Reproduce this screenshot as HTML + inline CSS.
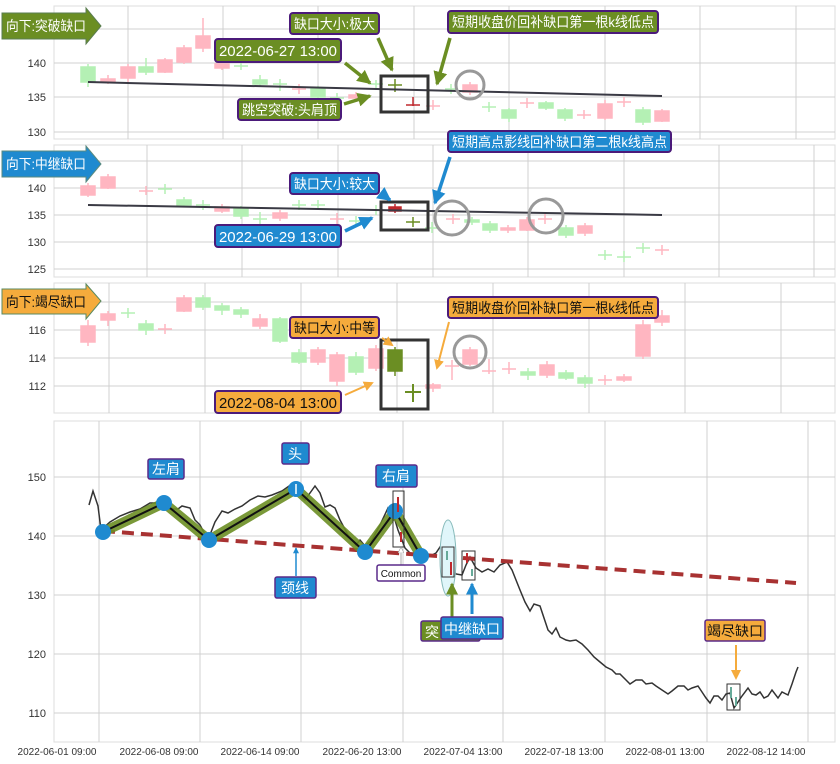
<!DOCTYPE html>
<html><head><meta charset="utf-8"><style>
body{margin:0;background:#fff;}
svg{display:block;font-family:"Liberation Sans","Noto Sans CJK SC",sans-serif;}
.g line{stroke:#d0d0d0;stroke-width:1}
.t{font-size:11px;fill:#333}
.p{fill:#ffb6c1;stroke:#ffb6c1}
.q{fill:#b4f0b4;stroke:#b4f0b4}
.lb{font-size:14px;fill:#fff}
</style></head><body>
<svg width="840" height="764" viewBox="0 0 840 764" xmlns="http://www.w3.org/2000/svg">
<defs>
<marker id="ao" markerWidth="4" markerHeight="4" refX="3.5" refY="2" orient="auto"><path d="M0,0L4,2L0,4z" fill="#6b8e23"/></marker>
<marker id="ab" markerWidth="4" markerHeight="4" refX="3.5" refY="2" orient="auto"><path d="M0,0L4,2L0,4z" fill="#1f8ad0"/></marker>
<marker id="ay" markerWidth="5" markerHeight="5" refX="4" refY="2.5" orient="auto"><path d="M0,0L5,2.5L0,5z" fill="#f5ab3c"/></marker>
<marker id="aw" markerWidth="6" markerHeight="6" refX="5" refY="3" orient="auto"><path d="M0,0L6,3L0,6z" fill="#fff" stroke="#999" stroke-width=".6"/></marker>
</defs>
<rect x="54" y="6" width="781" height="133" fill="none" stroke="#ddd"/>
<rect x="54" y="145" width="781" height="132" fill="none" stroke="#ddd"/>
<rect x="54" y="283" width="781" height="130" fill="none" stroke="#ddd"/>
<rect x="54" y="421" width="781" height="321" fill="none" stroke="#ddd"/>
<g class="g">
<line x1="54" y1="29" x2="835" y2="29"/><line x1="54" y1="63" x2="835" y2="63"/><line x1="54" y1="97" x2="835" y2="97"/><line x1="54" y1="132" x2="835" y2="132"/>
<line x1="128" y1="6" x2="128" y2="139"/><line x1="223" y1="6" x2="223" y2="139"/><line x1="318" y1="6" x2="318" y2="139"/><line x1="414" y1="6" x2="414" y2="139"/><line x1="509" y1="6" x2="509" y2="139"/><line x1="605" y1="6" x2="605" y2="139"/><line x1="700" y1="6" x2="700" y2="139"/><line x1="796" y1="6" x2="796" y2="139"/>
<line x1="54" y1="161" x2="835" y2="161"/><line x1="54" y1="188" x2="835" y2="188"/><line x1="54" y1="215" x2="835" y2="215"/><line x1="54" y1="242" x2="835" y2="242"/><line x1="54" y1="269" x2="835" y2="269"/>
<line x1="147" y1="145" x2="147" y2="277"/><line x1="242" y1="145" x2="242" y2="277"/><line x1="338" y1="145" x2="338" y2="277"/><line x1="433" y1="145" x2="433" y2="277"/><line x1="528" y1="145" x2="528" y2="277"/><line x1="624" y1="145" x2="624" y2="277"/><line x1="719" y1="145" x2="719" y2="277"/><line x1="814" y1="145" x2="814" y2="277"/>
<line x1="54" y1="302" x2="835" y2="302"/><line x1="54" y1="330" x2="835" y2="330"/><line x1="54" y1="358" x2="835" y2="358"/><line x1="54" y1="386" x2="835" y2="386"/>
<line x1="109" y1="283" x2="109" y2="413"/><line x1="205" y1="283" x2="205" y2="413"/><line x1="301" y1="283" x2="301" y2="413"/><line x1="397" y1="283" x2="397" y2="413"/><line x1="493" y1="283" x2="493" y2="413"/><line x1="589" y1="283" x2="589" y2="413"/><line x1="685" y1="283" x2="685" y2="413"/><line x1="781" y1="283" x2="781" y2="413"/>
<line x1="54" y1="477" x2="835" y2="477"/><line x1="54" y1="536" x2="835" y2="536"/><line x1="54" y1="595" x2="835" y2="595"/><line x1="54" y1="654" x2="835" y2="654"/><line x1="54" y1="713" x2="835" y2="713"/>
<line x1="99" y1="421" x2="99" y2="742"/><line x1="200" y1="421" x2="200" y2="742"/><line x1="301" y1="421" x2="301" y2="742"/><line x1="403" y1="421" x2="403" y2="742"/><line x1="503" y1="421" x2="503" y2="742"/><line x1="605" y1="421" x2="605" y2="742"/><line x1="707" y1="421" x2="707" y2="742"/><line x1="808" y1="421" x2="808" y2="742"/>
</g>
<g class="t" text-anchor="end">
<text x="46" y="67">140</text><text x="46" y="101">135</text><text x="46" y="136">130</text>
<text x="46" y="192">140</text><text x="46" y="219">135</text><text x="46" y="246">130</text><text x="46" y="273">125</text>
<text x="46" y="334">116</text><text x="46" y="362">114</text><text x="46" y="390">112</text>
<text x="46" y="481">150</text><text x="46" y="540">140</text><text x="46" y="599">130</text><text x="46" y="658">120</text><text x="46" y="717">110</text>
</g>
<g font-size="10" fill="#333" text-anchor="middle">
<text x="57" y="755">2022-06-01 09:00</text><text x="159" y="755">2022-06-08 09:00</text><text x="260" y="755">2022-06-14 09:00</text><text x="362" y="755">2022-06-20 13:00</text><text x="463" y="755">2022-07-04 13:00</text><text x="564" y="755">2022-07-18 13:00</text><text x="665" y="755">2022-08-01 13:00</text><text x="766" y="755">2022-08-12 14:00</text>
</g>

<g stroke-width="1.5">
<line class="q" x1="88" y1="64" x2="88" y2="87"/><rect class="q" x="81" y="67" width="14" height="15"/>
<line class="p" x1="108" y1="75" x2="108" y2="84"/><rect class="p" x="101" y="79" width="14" height="3"/>
<line class="p" x1="128" y1="64" x2="128" y2="82"/><rect class="p" x="121" y="67" width="14" height="11"/>
<line class="q" x1="146" y1="58" x2="146" y2="75"/><rect class="q" x="139" y="67" width="14" height="5"/>
<line class="p" x1="165" y1="58" x2="165" y2="73"/><rect class="p" x="158" y="60" width="14" height="12"/>
<line class="p" x1="184" y1="45" x2="184" y2="64"/><rect class="p" x="177" y="48" width="14" height="14"/>
<line class="p" x1="203" y1="18" x2="203" y2="52"/><rect class="p" x="196" y="36" width="14" height="12"/>
<line class="p" x1="222" y1="61" x2="222" y2="70"/><rect class="p" x="215" y="64" width="14" height="4"/>
<line class="q" x1="241" y1="61" x2="241" y2="70"/><line class="q" x1="234" y1="66" x2="248" y2="66"/>
<line class="q" x1="260" y1="75" x2="260" y2="86"/><rect class="q" x="253" y="80" width="14" height="4"/>
<line class="q" x1="280" y1="79" x2="280" y2="91"/><line class="q" x1="273" y1="84" x2="287" y2="84"/>
<line class="p" x1="299" y1="84" x2="299" y2="94"/><line class="p" x1="292" y1="89" x2="306" y2="89"/>
<line class="q" x1="318" y1="86" x2="318" y2="99"/><rect class="q" x="311" y="89" width="14" height="8"/>
<line class="q" x1="337" y1="93" x2="337" y2="102"/><line class="q" x1="330" y1="98" x2="344" y2="98"/>
<line class="p" x1="356" y1="92" x2="356" y2="102"/><rect class="p" x="349" y="95" width="14" height="3"/>
<line class="q" x1="376" y1="80" x2="376" y2="90"/><line class="q" x1="369" y1="84" x2="383" y2="84"/>
<line stroke="#6b8e23" x1="395" y1="79" x2="395" y2="92"/><line stroke="#6b8e23" x1="388" y1="85" x2="402" y2="85"/>
<line stroke="#c0282d" x1="413" y1="97" x2="413" y2="106"/><line stroke="#c0282d" x1="406" y1="105" x2="420" y2="105"/>
<line class="p" x1="433" y1="100" x2="433" y2="110"/><line class="p" x1="426" y1="106" x2="440" y2="106"/>
<line class="q" x1="451" y1="84" x2="451" y2="94"/><line class="q" x1="445" y1="89" x2="457" y2="89"/>
<line class="p" x1="470" y1="82" x2="470" y2="95"/><rect class="p" x="463" y="85" width="14" height="7"/>
<line class="q" x1="489" y1="102" x2="489" y2="112"/><line class="q" x1="482" y1="107" x2="496" y2="107"/>
<line class="q" x1="509" y1="108" x2="509" y2="122"/><rect class="q" x="502" y="110" width="14" height="8"/>
<line class="p" x1="527" y1="98" x2="527" y2="108"/><line class="p" x1="520" y1="103" x2="534" y2="103"/>
<line class="q" x1="546" y1="101" x2="546" y2="110"/><rect class="q" x="539" y="103" width="14" height="5"/>
<line class="q" x1="565" y1="108" x2="565" y2="121"/><rect class="q" x="558" y="110" width="14" height="8"/>
<line class="p" x1="584" y1="110" x2="584" y2="119"/><line class="p" x1="577" y1="115" x2="591" y2="115"/>
<line class="p" x1="605" y1="100" x2="605" y2="120"/><rect class="p" x="598" y="104" width="14" height="14"/>
<line class="p" x1="624" y1="97" x2="624" y2="107"/><line class="p" x1="617" y1="102" x2="631" y2="102"/>
<line class="q" x1="643" y1="107" x2="643" y2="125"/><rect class="q" x="636" y="110" width="14" height="12"/>
<line class="p" x1="662" y1="109" x2="662" y2="122"/><rect class="p" x="655" y="111" width="14" height="10"/>
</g>
<line x1="88" y1="82" x2="662" y2="96" stroke="#3a3a44" stroke-width="2"/>
<rect x="381" y="76" width="47" height="36" fill="none" stroke="#333" stroke-width="3"/>
<circle cx="470" cy="85" r="14" fill="none" stroke="#999" stroke-width="3"/>

<g stroke-width="1.5">
<line class="p" x1="88" y1="183" x2="88" y2="197"/><rect class="p" x="81" y="186" width="14" height="9"/>
<line class="p" x1="108" y1="174" x2="108" y2="189"/><rect class="p" x="101" y="177" width="14" height="11"/>
<line class="p" x1="146" y1="186" x2="146" y2="195"/><line class="p" x1="139" y1="191" x2="153" y2="191"/>
<line class="q" x1="165" y1="184" x2="165" y2="194"/><line class="q" x1="158" y1="189" x2="172" y2="189"/>
<line class="q" x1="184" y1="197" x2="184" y2="207"/><rect class="q" x="177" y="200" width="14" height="5"/>
<line class="q" x1="203" y1="200" x2="203" y2="210"/><line class="q" x1="196" y1="205" x2="210" y2="205"/>
<line class="p" x1="222" y1="204" x2="222" y2="213"/><rect class="p" x="215" y="207" width="14" height="4"/>
<line class="q" x1="241" y1="206" x2="241" y2="219"/><rect class="q" x="234" y="209" width="14" height="7"/>
<line class="q" x1="260" y1="212" x2="260" y2="225"/><line class="q" x1="253" y1="219" x2="267" y2="219"/>
<line class="p" x1="280" y1="210" x2="280" y2="221"/><rect class="p" x="273" y="213" width="14" height="5"/>
<line class="q" x1="299" y1="200" x2="299" y2="210"/><line class="q" x1="292" y1="205" x2="306" y2="205"/>
<line class="q" x1="318" y1="200" x2="318" y2="210"/><line class="q" x1="311" y1="205" x2="325" y2="205"/>
<line class="p" x1="337" y1="213" x2="337" y2="224"/><line class="p" x1="330" y1="219" x2="344" y2="219"/>
<line class="q" x1="356" y1="216" x2="356" y2="225"/><line class="q" x1="349" y1="221" x2="363" y2="221"/>
<line class="q" x1="376" y1="205" x2="376" y2="215"/><line class="q" x1="369" y1="210" x2="383" y2="210"/>
<line stroke="#c0282d" x1="395" y1="204" x2="395" y2="213"/><rect fill="#c0282d" stroke="#c0282d" x="389" y="207" width="12" height="4"/>
<line stroke="#6b8e23" x1="413" y1="217" x2="413" y2="227"/><line stroke="#6b8e23" x1="406" y1="222" x2="420" y2="222"/>
<line class="q" x1="432" y1="222" x2="432" y2="233"/><line class="q" x1="425" y1="228" x2="439" y2="228"/>
<line class="p" x1="453" y1="214" x2="453" y2="224"/><line class="p" x1="446" y1="219" x2="460" y2="219"/>
<line class="q" x1="472" y1="217" x2="472" y2="225"/><rect class="q" x="465" y="220" width="14" height="2"/>
<line class="q" x1="490" y1="221" x2="490" y2="233"/><rect class="q" x="483" y="224" width="14" height="6"/>
<line class="p" x1="508" y1="225" x2="508" y2="233"/><rect class="p" x="501" y="228" width="14" height="2"/>
<line class="p" x1="527" y1="217" x2="527" y2="231"/><rect class="p" x="520" y="220" width="14" height="10"/>
<line class="p" x1="545" y1="214" x2="545" y2="224"/><line class="p" x1="538" y1="219" x2="552" y2="219"/>
<line class="q" x1="566" y1="225" x2="566" y2="238"/><rect class="q" x="559" y="228" width="14" height="7"/>
<line class="p" x1="585" y1="223" x2="585" y2="236"/><rect class="p" x="578" y="226" width="14" height="7"/>
<line class="q" x1="605" y1="250" x2="605" y2="260"/><line class="q" x1="598" y1="255" x2="612" y2="255"/>
<line class="q" x1="624" y1="251" x2="624" y2="262"/><line class="q" x1="617" y1="257" x2="631" y2="257"/>
<line class="q" x1="643" y1="243" x2="643" y2="253"/><line class="q" x1="636" y1="248" x2="650" y2="248"/>
<line class="p" x1="662" y1="245" x2="662" y2="255"/><line class="p" x1="655" y1="250" x2="669" y2="250"/>
</g>
<line x1="88" y1="205" x2="662" y2="215" stroke="#3a3a44" stroke-width="2"/>
<rect x="381" y="202" width="47" height="28" fill="none" stroke="#333" stroke-width="3"/>
<circle cx="452" cy="218" r="17" fill="none" stroke="#999" stroke-width="3"/>
<circle cx="546" cy="216" r="17" fill="none" stroke="#999" stroke-width="3"/>

<g stroke-width="1.5">
<line class="p" x1="88" y1="320" x2="88" y2="346"/><rect class="p" x="81" y="326" width="14" height="16"/>
<line class="p" x1="108" y1="311" x2="108" y2="326"/><rect class="p" x="101" y="314" width="14" height="6"/>
<line class="q" x1="128" y1="308" x2="128" y2="318"/><line class="q" x1="121" y1="313" x2="135" y2="313"/>
<line class="q" x1="146" y1="320" x2="146" y2="335"/><rect class="q" x="139" y="324" width="14" height="6"/>
<line class="p" x1="165" y1="324" x2="165" y2="334"/><line class="p" x1="158" y1="329" x2="172" y2="329"/>
<line class="p" x1="184" y1="295" x2="184" y2="312"/><rect class="p" x="177" y="298" width="14" height="13"/>
<line class="q" x1="203" y1="295" x2="203" y2="310"/><rect class="q" x="196" y="298" width="14" height="9"/>
<line class="q" x1="222" y1="303" x2="222" y2="315"/><rect class="q" x="215" y="306" width="14" height="4"/>
<line class="q" x1="241" y1="307" x2="241" y2="318"/><rect class="q" x="234" y="310" width="14" height="4"/>
<line class="p" x1="260" y1="314" x2="260" y2="329"/><rect class="p" x="253" y="319" width="14" height="7"/>
<line class="q" x1="280" y1="317" x2="280" y2="343"/><rect class="q" x="273" y="319" width="14" height="22"/>
<line class="q" x1="299" y1="349" x2="299" y2="364"/><rect class="q" x="292" y="353" width="14" height="9"/>
<line class="p" x1="318" y1="347" x2="318" y2="365"/><rect class="p" x="311" y="350" width="14" height="12"/>
<line class="p" x1="337" y1="352" x2="337" y2="386"/><rect class="p" x="330" y="355" width="14" height="26"/>
<line class="q" x1="356" y1="352" x2="356" y2="375"/><rect class="q" x="349" y="357" width="14" height="15"/>
<line class="p" x1="376" y1="345" x2="376" y2="371"/><rect class="p" x="369" y="349" width="14" height="19"/>
<line stroke="#6b8e23" x1="395" y1="347" x2="395" y2="376"/><rect fill="#6b8e23" stroke="#6b8e23" x="388" y="350" width="14" height="21"/>
<line stroke="#6b8e23" stroke-width="2" x1="413" y1="384" x2="413" y2="402"/><line stroke="#6b8e23" stroke-width="2" x1="405" y1="392" x2="421" y2="392"/>
<line class="p" x1="433" y1="383" x2="433" y2="392"/><rect class="p" x="426" y="385" width="14" height="3"/>
<line class="p" x1="452" y1="360" x2="452" y2="380"/><line class="p" x1="445" y1="366" x2="459" y2="366"/>
<line class="p" x1="470" y1="347" x2="470" y2="366"/><rect class="p" x="463" y="350" width="14" height="14"/>
<line class="p" x1="489" y1="359" x2="489" y2="374"/><line class="p" x1="482" y1="371" x2="496" y2="371"/>
<line class="p" x1="509" y1="362" x2="509" y2="374"/><line class="p" x1="502" y1="369" x2="516" y2="369"/>
<line class="q" x1="528" y1="368" x2="528" y2="380"/><rect class="q" x="521" y="372" width="14" height="3"/>
<line class="p" x1="547" y1="361" x2="547" y2="378"/><rect class="p" x="540" y="365" width="14" height="10"/>
<line class="q" x1="566" y1="370" x2="566" y2="380"/><rect class="q" x="559" y="373" width="14" height="5"/>
<line class="q" x1="585" y1="375" x2="585" y2="388"/><rect class="q" x="578" y="378" width="14" height="5"/>
<line class="p" x1="605" y1="375" x2="605" y2="385"/><line class="p" x1="598" y1="380" x2="612" y2="380"/>
<line class="p" x1="624" y1="374" x2="624" y2="382"/><rect class="p" x="617" y="377" width="14" height="3"/>
<line class="p" x1="643" y1="320" x2="643" y2="359"/><rect class="p" x="636" y="325" width="14" height="31"/>
<line class="p" x1="662" y1="310" x2="662" y2="326"/><rect class="p" x="655" y="316" width="14" height="6"/>
</g>
<rect x="381" y="340" width="47" height="69" fill="none" stroke="#333" stroke-width="3"/>
<circle cx="470" cy="352" r="16" fill="none" stroke="#999" stroke-width="3"/>

<polyline fill="none" stroke="#333" stroke-width="1.5" points="89,505 93,491 98,506 101,530 110,522 120,516 130,512 140,509 150,503 160,503 166,508 170,509 178,509 182,506 190,508 195,520 200,525 208,540 215,522 222,511 228,513 235,509 242,506 250,500 258,496 265,497 272,495 282,491 292,484 297,493 305,500 315,486 320,493 325,507 330,505 335,508 340,520 348,535 356,545 360,540 365,546 372,540 380,525 388,508 394,517 398,530 405,548 412,555 420,552 428,557 436,553 440,547 444,558 450,565 456,574 462,575 466,565 470,557 476,568 482,572 488,569 494,572 500,565 507,562 512,570 516,580 520,590 525,602 530,611 534,604 540,606 544,618 548,630 552,634 556,628 560,637 566,640 570,641 576,640 582,644 588,650 594,657 600,662 606,667 612,670 616,674 620,674 626,680 630,684 636,680 642,680 646,684 652,683 656,686 662,690 668,694 672,691 678,686 684,686 688,690 692,688 698,686 702,692 706,698 710,703 714,696 718,696 722,700 726,694 730,693 734,708 738,702 742,696 748,688 752,694 756,695 760,692 764,698 768,696 772,690 778,698 782,692 788,695 792,684 796,672 798,667"/>
<line x1="103" y1="531" x2="796" y2="583" stroke="#a83232" stroke-width="4" stroke-dasharray="12,7"/>
<polyline fill="none" stroke="#6b8e23" stroke-opacity="0.9" stroke-width="10" stroke-linejoin="round" points="103,532 164,503 209,540 296,489 365,552 395,511 421,556"/>
<polyline fill="none" stroke="#111" stroke-width="2" points="103,532 164,503 209,540 296,489 365,552 395,511 421,556"/>
<g fill="#1f8ad0"><circle cx="103" cy="532" r="8"/><circle cx="164" cy="503" r="8"/><circle cx="209" cy="540" r="8"/><circle cx="296" cy="489" r="8"/><circle cx="365" cy="552" r="8"/><circle cx="395" cy="511" r="8"/><circle cx="421" cy="556" r="8"/></g>
<line x1="296" y1="484" x2="296" y2="494" stroke="#fff" stroke-width="1.5"/>
<ellipse cx="448" cy="558" rx="8" ry="38" fill="#e0f6fa" stroke="#8bb" stroke-width="1"/>
<g fill="none" stroke="#333" stroke-width="1">
<rect x="393" y="491" width="11" height="56"/><rect x="442" y="547" width="12" height="30"/><rect x="462" y="551" width="13" height="29"/><rect x="727" y="684" width="13" height="26"/>
</g>
<g stroke-width="2">
<line x1="398" y1="497" x2="398" y2="512" stroke="#c0282d"/><line x1="401" y1="532" x2="401" y2="542" stroke="#c0282d"/>
<line x1="447" y1="551" x2="447" y2="560" stroke="#6a9"/><line x1="451" y1="562" x2="451" y2="575" stroke="#c0282d"/>
<line x1="467" y1="553" x2="467" y2="563" stroke="#c0282d"/><line x1="472" y1="569" x2="472" y2="576" stroke="#6a9"/>
<line x1="731" y1="687" x2="731" y2="698" stroke="#6a9"/><line x1="736" y1="697" x2="736" y2="706" stroke="#6a9"/>
</g>
<line x1="401" y1="566" x2="401" y2="548" stroke="#aaa" stroke-width="1" marker-end="url(#aw)"/>
<line x1="296" y1="576" x2="296" y2="548" stroke="#1f8ad0" stroke-width="1.5" marker-end="url(#ab)"/>
<line x1="452" y1="630" x2="452" y2="584" stroke="#6b8e23" stroke-width="3" marker-end="url(#ao)"/>
<line x1="472" y1="614" x2="472" y2="584" stroke="#1f8ad0" stroke-width="3" marker-end="url(#ab)"/>
<line x1="736" y1="645" x2="736" y2="678" stroke="#f5ab3c" stroke-width="2" marker-end="url(#ay)"/>
<g stroke="#5a2a8a" stroke-width="1.5">
<rect x="148" y="459" width="36" height="20" rx="2" fill="#1f8ad0"/>
<rect x="282" y="443" width="27" height="21" rx="2" fill="#1f8ad0"/>
<rect x="376" y="465" width="41" height="22" rx="2" fill="#1f8ad0"/>
<rect x="275" y="577" width="41" height="21" rx="2" fill="#1f8ad0"/>
<rect x="377" y="565" width="48" height="16" rx="2" fill="#fff"/>
<rect x="421" y="621" width="59" height="20" rx="2" fill="#6b8e23"/>
<rect x="441" y="617" width="62" height="22" rx="2" fill="#1f8ad0"/>
<rect x="705" y="620" width="60" height="21" rx="2" fill="#f5ab3c"/>
</g>
<g class="lb" font-size="13" text-anchor="middle">
<text x="166" y="474">左肩</text><text x="295" y="459">头</text><text x="396" y="481">右肩</text><text x="295" y="593">颈线</text>
<text x="432" y="637">突</text><text x="472" y="634">中继缺口</text><text x="735" y="636" fill="#111">竭尽缺口</text>
<text x="401" y="577" font-size="10" fill="#111">Common</text>
</g>

<path d="M2,13H86V8L101,26L86,44V39H2Z" fill="#6b8e23" stroke="#5a7d50" stroke-width="1"/>
<path d="M2,151H86V146L101,164L86,182V177H2Z" fill="#1f8ad0" stroke="#5a8a80" stroke-width="1"/>
<path d="M2,289H86V284L101,301L86,319V314H2Z" fill="#f5ab3c" stroke="#5a8a60" stroke-width="1"/>
<g font-size="13" class="lb">
<text x="6" y="31" textLength="80" lengthAdjust="spacingAndGlyphs">向下:突破缺口</text><text x="6" y="169" textLength="80" lengthAdjust="spacingAndGlyphs">向下:中继缺口</text><text x="6" y="307" fill="#111" textLength="80" lengthAdjust="spacingAndGlyphs">向下:竭尽缺口</text>
</g>

<g stroke-width="3.5">
<line x1="345" y1="63" x2="370" y2="83" stroke="#6b8e23" marker-end="url(#ao)"/>
<line x1="344" y1="104" x2="370" y2="96" stroke="#6b8e23" marker-end="url(#ao)"/>
<line x1="378" y1="38" x2="392" y2="70" stroke="#6b8e23" marker-end="url(#ao)"/>
<line x1="450" y1="38" x2="437" y2="84" stroke="#6b8e23" marker-end="url(#ao)"/>
<line x1="345" y1="231" x2="372" y2="218" stroke="#1f8ad0" marker-end="url(#ab)"/>
<line x1="382" y1="194" x2="390" y2="200" stroke="#1f8ad0" marker-end="url(#ab)"/>
<line x1="450" y1="157" x2="435" y2="203" stroke="#1f8ad0" marker-end="url(#ab)"/>
</g>
<g stroke-width="2">
<line x1="345" y1="395" x2="372" y2="383" stroke="#f5ab3c" marker-end="url(#ay)"/>
<line x1="382" y1="338" x2="392" y2="345" stroke="#f5ab3c" marker-end="url(#ay)"/>
<line x1="449" y1="322" x2="437" y2="368" stroke="#f5ab3c" marker-end="url(#ay)"/>
</g>
<g stroke="#4b1a7a" stroke-width="2">
<rect x="290" y="13" width="89" height="21" rx="3" fill="#6b8e23"/>
<rect x="215" y="39" width="126" height="23" rx="3" fill="#6b8e23"/>
<rect x="238" y="99" width="103" height="21" rx="3" fill="#6b8e23"/>
<rect x="448" y="11" width="210" height="22" rx="3" fill="#6b8e23"/>
<rect x="290" y="173" width="89" height="21" rx="3" fill="#1f8ad0"/>
<rect x="215" y="225" width="126" height="22" rx="3" fill="#1f8ad0"/>
<rect x="448" y="131" width="223" height="21" rx="3" fill="#1f8ad0"/>
<rect x="290" y="317" width="89" height="21" rx="3" fill="#f5ab3c"/>
<rect x="215" y="391" width="126" height="22" rx="3" fill="#f5ab3c"/>
<rect x="448" y="297" width="210" height="21" rx="3" fill="#f5ab3c"/>
</g>
<g class="lb" font-size="13" lengthAdjust="spacingAndGlyphs">
<text x="294" y="29" textLength="81" lengthAdjust="spacingAndGlyphs">缺口大小:极大</text>
<text x="219" y="56" font-size="15" textLength="118" lengthAdjust="spacingAndGlyphs">2022-06-27 13:00</text>
<text x="242" y="115" textLength="95" lengthAdjust="spacingAndGlyphs">跳空突破:头肩顶</text>
<text x="452" y="27" textLength="202" lengthAdjust="spacingAndGlyphs">短期收盘价回补缺口第一根k线低点</text>
<text x="294" y="189" textLength="81" lengthAdjust="spacingAndGlyphs">缺口大小:较大</text>
<text x="219" y="242" font-size="15" textLength="118" lengthAdjust="spacingAndGlyphs">2022-06-29 13:00</text>
<text x="452" y="147" textLength="215" lengthAdjust="spacingAndGlyphs">短期高点影线回补缺口第二根k线高点</text>
<text x="294" y="333" fill="#111" textLength="81" lengthAdjust="spacingAndGlyphs">缺口大小:中等</text>
<text x="219" y="408" font-size="15" fill="#111" textLength="118" lengthAdjust="spacingAndGlyphs">2022-08-04 13:00</text>
<text x="452" y="313" fill="#111" textLength="202" lengthAdjust="spacingAndGlyphs">短期收盘价回补缺口第一根k线低点</text>
</g>
</svg>
</body></html>
